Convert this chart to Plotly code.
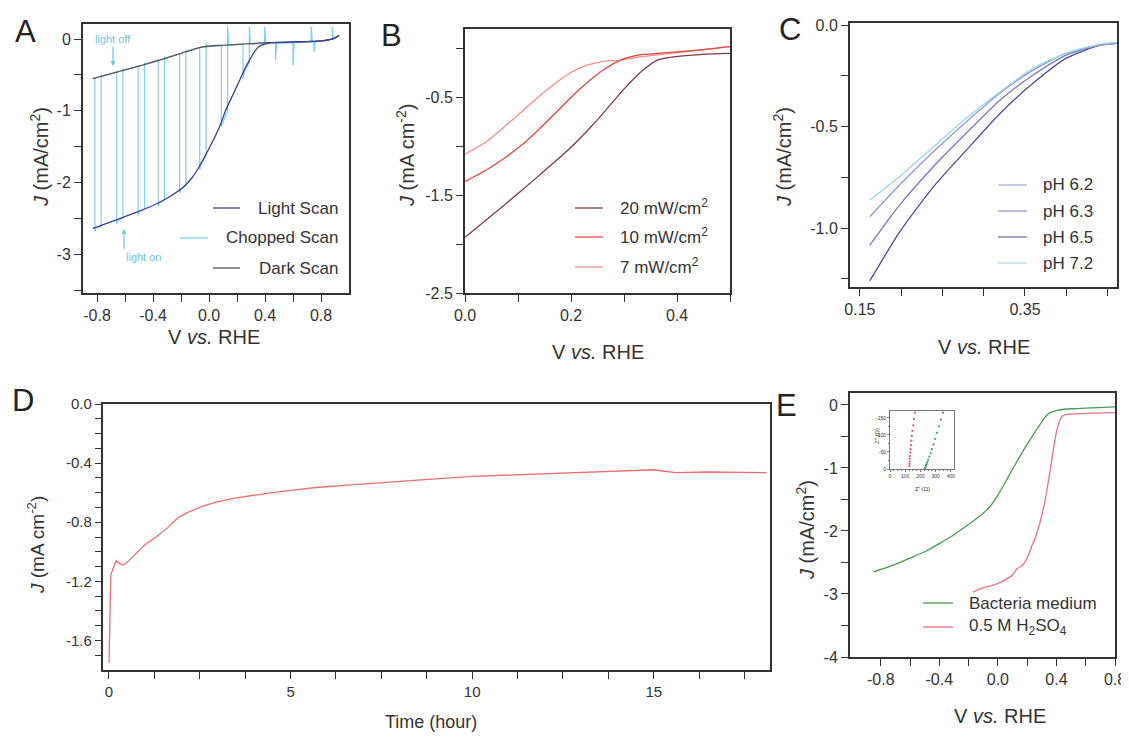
import plotly.graph_objects as go

# The page body keeps the browser's 8px default margin, so the figure is drawn 8px in
# from the top-left corner; all positions below are given in window pixels.
OFF = 8
W, H = 1129 - OFF, 738 - OFF
FONT = "Liberation Sans, Arial, Helvetica, sans-serif"
NARROW = "Liberation Sans Narrow, Liberation Sans, Arial, sans-serif"
INK = "#333333"

# ---------------- Panel A data ----------------
a_light_v = [-0.83, -0.70, -0.54, -0.40, -0.30, -0.18, -0.12, -0.07, -0.02, 0.03, 0.08, 0.12,
             0.17, 0.22, 0.26, 0.29, 0.33, 0.36, 0.40, 0.46, 0.60, 0.77, 0.88, 0.93]
a_light_j = [-2.64, -2.55, -2.43, -2.32, -2.22, -2.06, -1.93, -1.78, -1.60, -1.41, -1.20, -0.99,
             -0.78, -0.57, -0.40, -0.29, -0.16, -0.10, -0.07, -0.05, -0.04, -0.03, 0.00, 0.05]
a_dark_v = [-0.83, -0.60, -0.40, -0.20, -0.07, 0.05, 0.17, 0.41, 0.60, 0.77, 0.88, 0.93]
a_dark_j = [-0.55, -0.43, -0.32, -0.20, -0.12, -0.09, -0.08, -0.05, -0.04, -0.03, 0.00, 0.05]
a_chop_v = [-0.84, -0.815, -0.815, -0.807, -0.77, -0.77, -0.762,
            -0.66, -0.66, -0.652, -0.615, -0.615, -0.607,
            -0.506, -0.506, -0.498, -0.46, -0.46, -0.452,
            -0.363, -0.363, -0.355, -0.318, -0.318, -0.31,
            -0.21, -0.21, -0.202, -0.165, -0.165, -0.157,
            -0.066, -0.066, -0.058, -0.02, -0.02, -0.012,
            0.088, 0.088, 0.096, 0.133, 0.133, 0.141,
            0.243, 0.243, 0.251, 0.288, 0.288, 0.296,
            0.397, 0.397, 0.405, 0.475, 0.475, 0.483,
            0.60, 0.60, 0.608, 0.73, 0.73, 0.738,
            0.75, 0.75, 0.758, 0.88, 0.88, 0.888, 0.93]
a_chop_j = [-0.55, -0.545, -2.68, -2.63, -2.61, -0.50, -0.52,
            -0.46, -2.58, -2.53, -2.50, -0.41, -0.435,
            -0.375, -2.46, -2.41, -2.37, -0.33, -0.35,
            -0.29, -2.33, -2.28, -2.24, -0.24, -0.265,
            -0.205, -2.15, -2.10, -2.04, -0.15, -0.18,
            -0.12, -1.82, -1.76, -1.62, -0.06, -0.11,
            -0.09, -1.22, -1.18, -1.00, 0.17, -0.08,
            -0.075, -0.55, -0.47, -0.32, 0.17, -0.07,
            -0.06, 0.17, -0.06, -0.055, -0.29, -0.06,
            -0.05, -0.36, -0.05, -0.04, 0.17, -0.04,
            -0.04, -0.18, -0.04, 0.00, 0.17, 0.00, 0.05]
a_xticks = [-0.8, -0.4, 0.0, 0.4, 0.8]
a_xtext = ["-0.8", "-0.4", "0.0", "0.4", "0.8"]
a_yticks = [0, -1, -2, -3]
a_ytext = ["0", "-1", "-2", "-3"]

# ---------------- Panel B data ----------------
b_v20 = [0.0, 0.072, 0.135, 0.198, 0.236, 0.261, 0.299, 0.336, 0.362, 0.387, 0.45, 0.5]
b_j20 = [-1.93, -1.61, -1.32, -1.02, -0.81, -0.66, -0.42, -0.22, -0.12, -0.09, -0.06, -0.05]
b_v10 = [0.0, 0.041, 0.072, 0.104, 0.135, 0.167, 0.198, 0.23, 0.261, 0.292, 0.324, 0.387, 0.45, 0.5]
b_j10 = [-1.36, -1.24, -1.13, -1.00, -0.85, -0.68, -0.51, -0.35, -0.22, -0.12, -0.07, -0.04, -0.01, 0.02]
b_v7 = [0.0, 0.041, 0.072, 0.104, 0.135, 0.167, 0.198, 0.23, 0.261, 0.292, 0.324, 0.387, 0.45, 0.5]
b_j7 = [-1.08, -0.95, -0.81, -0.66, -0.51, -0.37, -0.25, -0.17, -0.13, -0.12, -0.09, -0.05, -0.01, 0.02]
b_xticks = [0.0, 0.2, 0.4]
b_xtext = ["0.0", "0.2", "0.4"]
b_yticks = [-0.5, -1.5, -2.5]
b_ytext = ["-0.5", "-1.5", "-2.5"]

# ---------------- Panel C data ----------------
c_v = [0.162, 0.198, 0.239, 0.279, 0.32, 0.36, 0.40, 0.441, 0.461]
c_ph62 = [-0.944, -0.788, -0.624, -0.476, -0.335, -0.222, -0.138, -0.099, -0.09]
c_ph63 = [-1.084, -0.887, -0.698, -0.532, -0.369, -0.246, -0.148, -0.099, -0.09]
c_ph65 = [-1.26, -1.02, -0.797, -0.616, -0.434, -0.286, -0.163, -0.099, -0.09]
c_ph72 = [-0.862, -0.747, -0.60, -0.458, -0.329, -0.212, -0.138, -0.094, -0.085]
c_xticks = [0.15, 0.35]
c_xtext = ["0.15", "0.35"]
c_yticks = [0.0, -0.5, -1.0]
c_ytext = ["0.0", "-0.5", "-1.0"]

# ---------------- Panel D data ----------------
d_t = [0.0, 0.02, 0.05, 0.1, 0.2, 0.3, 0.4, 0.55, 0.75, 1.0, 1.3, 1.6, 1.9, 2.2, 2.6, 3.0,
       3.5, 4.0, 4.5, 5.0, 5.7, 6.5, 7.5, 8.5, 10.0, 11.0, 12.2, 13.5, 14.5, 15.0, 15.3,
       15.6, 16.5, 17.5, 18.1]
d_j = [-1.75, -1.45, -1.16, -1.12, -1.06, -1.08, -1.09, -1.06, -1.01, -0.95, -0.90, -0.84,
       -0.77, -0.73, -0.69, -0.66, -0.635, -0.615, -0.60, -0.585, -0.565, -0.55, -0.53,
       -0.515, -0.49, -0.48, -0.47, -0.46, -0.45, -0.445, -0.455, -0.465, -0.46, -0.465, -0.465]
d_xticks = [0, 5, 10, 15]
d_xtext = ["0", "5", "10", "15"]
d_yticks = [0.0, -0.4, -0.8, -1.2, -1.6]
d_ytext = ["0.0", "-0.4", "-0.8", "-1.2", "-1.6"]

# ---------------- Panel E data ----------------
e_v_bac = [-0.85, -0.7, -0.6, -0.5, -0.4, -0.3, -0.22, -0.15, -0.10, -0.05, 0.0, 0.05, 0.1,
           0.15, 0.19, 0.24, 0.285, 0.32, 0.35, 0.38, 0.42, 0.5, 0.6, 0.8]
e_j_bac = [-2.65, -2.53, -2.43, -2.33, -2.20, -2.06, -1.93, -1.81, -1.72, -1.60, -1.43, -1.23,
           -1.02, -0.82, -0.66, -0.48, -0.32, -0.20, -0.13, -0.10, -0.08, -0.06, -0.05, -0.03]
e_v_acid = [-0.17, -0.1, -0.03, 0.03, 0.1, 0.13, 0.17, 0.2, 0.23, 0.26, 0.28, 0.3, 0.32, 0.34,
            0.36, 0.375, 0.39, 0.405, 0.42, 0.44, 0.47, 0.55, 0.65, 0.8]
e_j_acid = [-2.97, -2.90, -2.86, -2.80, -2.70, -2.60, -2.54, -2.43, -2.25, -2.08, -1.93, -1.75,
            -1.55, -1.28, -1.00, -0.77, -0.55, -0.38, -0.27, -0.18, -0.15, -0.14, -0.13, -0.12]
e_xticks = [-0.8, -0.4, 0.0, 0.4, 0.8]
e_xtext = ["-0.8", "-0.4", "0.0", "0.4", "0.8"]
e_yticks = [0, -1, -2, -3, -4]
e_ytext = ["0", "-1", "-2", "-3", "-4"]

# inset (Nyquist)
ins_zr_acid = [127, 128, 129, 130, 131, 133, 135, 137, 140, 143, 147, 152, 157, 163]
ins_zi_acid = [-8, -15, -22, -30, -38, -48, -58, -70, -83, -97, -112, -128, -146, -165]
ins_zr_bac = [228, 232, 236, 240, 245, 251, 258, 266, 275, 285, 296, 308, 321, 335, 348]
ins_zi_bac = [-2, -5, -9, -14, -20, -27, -36, -46, -58, -72, -88, -106, -125, -145, -165]
ins_xticks = [0, 100, 200, 300, 400]
ins_xtext = ["0", "100", "200", "300", "400"]
ins_yticks = [0, -50, -100, -150]
ins_ytext = ["0", "-50", "-100", "-150"]

# ---------------- helpers ----------------
def px(x):
    return (x - OFF) / W

def py(y):
    return 1 - (y - OFF) / H

def dom_x(a, b):
    return [px(a), px(b)]

def dom_y(top, bottom):
    return [py(bottom), py(top)]

def axis(domain, rng, anchor, tickvals, ticktext, minor_vals, size=16, family=FONT, lw=1.9, tl=7,
         tw=1.4, lc=INK):
    return dict(domain=domain, range=rng, anchor=anchor, showline=True, linecolor=lc,
                linewidth=lw, mirror=True, ticks="outside", ticklen=tl, tickwidth=tw,
                tickcolor=lc, showgrid=False, zeroline=False, tickmode="array",
                automargin=False, fixedrange=True,
                tickvals=tickvals, ticktext=ticktext,
                tickfont=dict(family=family, size=size, color=INK),
                minor=dict(tickmode="array", tickvals=minor_vals, ticks="outside",
                           ticklen=tl if tl > 3 else 1.5, tickwidth=tw if tw > 1 else 0.5,
                           tickcolor=lc, showgrid=False))

fig = go.Figure()

def line(x, y, color, xa, ya, width=1.3, shape="spline"):
    fig.add_trace(go.Scatter(x=x, y=y, mode="lines", xaxis=xa, yaxis=ya, showlegend=False,
                             line=dict(color=color, width=width, shape=shape, smoothing=0.6),
                             hoverinfo="skip"))

# Panel A
A_LIGHT, A_CHOP, A_DARK = "#3a3f8f", "#7fcdf0", "#555555"
line(a_chop_v, a_chop_j, A_CHOP, "x", "y", 1.2, "linear")
line(a_dark_v, a_dark_j, A_DARK, "x", "y")
line(a_light_v, a_light_j, A_LIGHT, "x", "y")
# Panel B
B20, B10, B7 = "#7e3a44", "#e4483f", "#f38e8c"
line(b_v7, b_j7, B7, "x2", "y2")
line(b_v10, b_j10, B10, "x2", "y2")
line(b_v20, b_j20, B20, "x2", "y2")
# Panel C
C62, C63, C65, C72 = "#8e99d4", "#7579bf", "#4a4d9c", "#9ad4ec"
line(c_v, c_ph65, C65, "x3", "y3")
line(c_v, c_ph63, C63, "x3", "y3")
line(c_v, c_ph62, C62, "x3", "y3")
line(c_v, c_ph72, C72, "x3", "y3")
# Panel D
line(d_t, d_j, "#ea6f6c", "x4", "y4", 1.3, "linear")
# Panel E
EG, ER = "#4a9a50", "#f07080"
line(e_v_bac, e_j_bac, EG, "x5", "y5")
line(e_v_acid, e_j_acid, ER, "x5", "y5")
# Inset
fig.add_trace(go.Scatter(x=ins_zr_acid, y=ins_zi_acid, mode="markers", xaxis="x6", yaxis="y6",
                         showlegend=False, marker=dict(color="#e05060", size=2.2)))
fig.add_trace(go.Scatter(x=ins_zr_bac, y=ins_zi_bac, mode="markers", xaxis="x6", yaxis="y6",
                         showlegend=False, marker=dict(color="#40a070", size=2.2)))

fig.update_layout(
    width=W, height=H, margin=dict(l=0, r=0, t=0, b=0, pad=0, autoexpand=False),
    paper_bgcolor="white", plot_bgcolor="white", showlegend=False,
    font=dict(family=FONT, color=INK),
    xaxis=axis(dom_x(83, 349), [-0.9, 1.0], "y", a_xticks, a_xtext,
               [-0.6, -0.2, 0.2, 0.6]),
    yaxis=axis(dom_y(24, 293), [-3.54, 0.21], "x", a_yticks, a_ytext,
               [-0.5, -1.5, -2.5, -3.5]),
    xaxis2=axis(dom_x(465, 730), [0.0, 0.5], "y2", b_xticks, b_xtext, [0.1, 0.3, 0.5]),
    yaxis2=axis(dom_y(29, 293), [-2.5, 0.2], "x2", b_yticks, b_ytext, [0.0, -1.0, -2.0]),
    xaxis3=axis(dom_x(850, 1117), [0.138, 0.4615], "y3", c_xticks, c_xtext,
                [0.2, 0.25, 0.3, 0.4, 0.45]),
    yaxis3=axis(dom_y(23, 287), [-1.29, 0.01], "x3", c_yticks, c_ytext,
                [-0.25, -0.75, -1.25]),
    xaxis4=axis(dom_x(103, 770), [-0.165, 18.2], "y4", d_xticks, d_xtext,
                [1.25, 2.5, 3.75, 6.25, 7.5, 8.75, 11.25, 12.5, 13.75, 16.25, 17.5],
                size=15, family=NARROW, lw=2.3),
    yaxis4=axis(dom_y(404, 670), [-1.8, 0.0], "x4", d_yticks, d_ytext,
                [-0.1, -0.2, -0.3, -0.5, -0.6, -0.7, -0.9, -1.0, -1.1, -1.3, -1.4, -1.5, -1.7],
                size=15, family=NARROW, lw=2.3, tl=6),
    xaxis5=axis(dom_x(850, 1115), [-1.01, 0.8], "y5", e_xticks, e_xtext,
                [-0.6, -0.2, 0.2, 0.6]),
    yaxis5=axis(dom_y(393, 657), [-4.0, 0.19], "x5", e_yticks, e_ytext,
                [-0.5, -1.5, -2.5, -3.5]),
    xaxis6=axis(dom_x(890, 954), [0, 420], "y6", ins_xticks, ins_xtext,
                [25, 50, 75, 125, 150, 175, 225, 250, 275, 325, 350, 375],
                size=5, lw=0.8, tl=2, tw=0.6, lc="#777777"),
    yaxis6=axis(dom_y(411, 469), [0, -170], "x6", ins_yticks, ins_ytext,
                [-25, -75, -125], size=5, lw=0.8, tl=2, tw=0.6, lc="#777777"),
)

ann = []
def text(x, y, s, size=20, color=INK, angle=0, xanchor="center", family=FONT):
    ann.append(dict(x=px(x), y=py(y), xref="paper", yref="paper", text=s, showarrow=False,
                    font=dict(family=family, size=size, color=color), textangle=angle,
                    xanchor=xanchor, yanchor="middle"))

# panel letters
for lx, ly, s in [(25, 31, "A"), (391, 35, "B"), (790, 29, "C"), (23, 401, "D"), (786, 405, "E")]:
    text(lx, ly, s, size=31, color="#222222")

# axis titles
J1 = "<i>J</i> (mA/cm<sup>2</sup>)"
J2 = "<i>J</i> (mA cm<sup>-2</sup>)"
VR = "V <i>vs.</i> RHE"
text(39, 157, J1, 20, angle=-90)
text(214, 337, VR, 20)
text(405, 155, J2, 20, angle=-90)
text(598, 352, VR, 20)
text(782, 157, J1, 20, angle=-90)
text(984, 347, VR, 20)
text(36, 545, J2, 19, angle=-90, family=NARROW)
text(431, 722, "Time (hour)", 18, family=NARROW)
text(805, 530, J1, 20, angle=-90)
text(1000, 716, VR, 20)
# inset titles
text(877, 436, "Z'' (Ω)", 6, angle=-90)
text(922, 489, "Z' (Ω)", 6)

# panel A annotations (text with arrow)
BLUE_TXT = "#6ec3ea"
ann.append(dict(x=px(113), y=py(66), xref="paper", yref="paper", text="light off",
                showarrow=True, ax=0, ay=-19, xanchor="center", yanchor="bottom",
                arrowhead=2, arrowsize=0.8, arrowwidth=1.2, arrowcolor=BLUE_TXT,
                font=dict(family=FONT, size=11, color=BLUE_TXT)))
ann.append(dict(x=px(124), y=py(229), xref="paper", yref="paper", text="light on",
                showarrow=True, ax=0, ay=20, xanchor="left", yanchor="top",
                arrowhead=2, arrowsize=0.8, arrowwidth=1.2, arrowcolor=BLUE_TXT,
                font=dict(family=FONT, size=11, color=BLUE_TXT)))

# legends (custom)
shapes = []
def leg_line(x0, x1, y, color, width=1.3):
    shapes.append(dict(type="line", xref="paper", yref="paper", x0=px(x0), x1=px(x1),
                       y0=py(y), y1=py(y), line=dict(color=color, width=width)))

for (x0, x1, y, c, s) in [(213, 240, 208, A_LIGHT, "Light Scan"),
                          (180, 208, 238, A_CHOP, "Chopped Scan"),
                          (213, 240, 268, A_DARK, "Dark Scan")]:
    leg_line(x0, x1, y, c)
    text(340, y, s, 17, xanchor="right")

for (y, c, s) in [(208, B20, "20 mW/cm<sup>2</sup>"), (237, B10, "10 mW/cm<sup>2</sup>"),
                  (267, B7, "7 mW/cm<sup>2</sup>")]:
    leg_line(575, 603, y, c)
    text(618, y - 1, s, 17, xanchor="left")

for (y, c, s) in [(185, C62, "pH 6.2"), (211, C63, "pH 6.3"), (237, C65, "pH 6.5"),
                  (263, C72, "pH 7.2")]:
    leg_line(998, 1027, y, c, 1.0)
    text(1041, y, s, 17, xanchor="left")

for (y, c, s) in [(603, EG, "Bacteria medium"), (627, ER, "0.5 M H<sub>2</sub>SO<sub>4</sub>")]:
    leg_line(923, 953, y, c)
    text(967, y, s, 17, xanchor="left")

fig.update_layout(annotations=ann, shapes=shapes)
fig.write_html("out.html")
